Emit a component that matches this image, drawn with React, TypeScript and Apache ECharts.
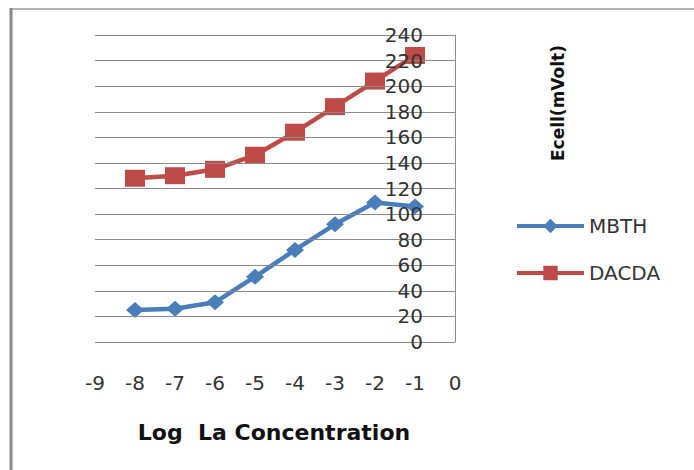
import React, { useEffect, useRef } from "react";
import * as echarts from "echarts";

const xValues = [-8, -7, -6, -5, -4, -3, -2, -1];
const mbthValues = [25, 26, 31, 51, 72, 92, 109, 106];
const dacdaValues = [128, 130, 135, 146, 164, 184, 204, 224];
const seriesNames = ["MBTH", "DACDA"];
const xAxisTitle = "Log  La Concentration";
const yAxisTitle = "Ecell(mVolt)";

export default function App() {
  const ref = useRef<HTMLDivElement>(null);
  useEffect(() => {
    if (!ref.current) return;
    const chart = echarts.init(ref.current, undefined, { renderer: "svg" });
    const font = "DejaVu Sans, Verdana, sans-serif";
    chart.setOption({
      animation: false,
      backgroundColor: "#ffffff",
      grid: { left: 95, right: 239, top: 35, bottom: 128, containLabel: false },
      xAxis: {
        type: "value",
        min: -9,
        max: 0,
        interval: 1,
        axisLine: { show: false },
        axisTick: { show: false },
        splitLine: { show: false },
        axisLabel: { margin: 31, fontSize: 20, color: "#333", fontFamily: font },
      },
      yAxis: {
        type: "value",
        position: "right",
        min: 0,
        max: 240,
        interval: 20,
        z: 5,
        axisLine: { show: true, lineStyle: { color: "#8c8c8c", width: 1 } },
        axisTick: { show: false },
        splitLine: { show: true, lineStyle: { color: "#8c8c8c", width: 1 } },
        axisLabel: {
          inside: true,
          margin: 32,
          fontSize: 20,
          color: "#333",
          fontFamily: font,
        },
      },
      legend: {
        orient: "vertical",
        left: 510,
        top: 211,
        itemWidth: 67,
        itemHeight: 18,
        itemGap: 27,
        data: seriesNames,
        lineStyle: { width: 4 },
        textStyle: { fontSize: 20, color: "#333", fontFamily: font },
      },
      series: [
        {
          name: seriesNames[0],
          type: "line",
          data: xValues.map((x, i) => [x, mbthValues[i]]),
          symbol: "diamond",
          symbolSize: [18, 16],
          lineStyle: { color: "#4a7ebb", width: 4.5 },
          itemStyle: { color: "#4a7ebb" },
        },
        {
          name: seriesNames[1],
          type: "line",
          data: xValues.map((x, i) => [x, dacdaValues[i]]),
          symbol: "rect",
          symbolSize: [20, 17],
          lineStyle: { color: "#be4b48", width: 4.5 },
          itemStyle: { color: "#be4b48" },
        },
      ],
      graphic: [
        {
          type: "line",
          shape: { x1: 10, y1: 9, x2: 694, y2: 9 },
          style: { stroke: "#9a9a9a", lineWidth: 1.5 },
        },
        {
          type: "line",
          shape: { x1: 11, y1: 8, x2: 11, y2: 470 },
          style: { stroke: "#8a8a8a", lineWidth: 3 },
        },
        {
          type: "text",
          x: 274,
          y: 432,
          style: {
            text: xAxisTitle,
            font: `bold 22px ${font}`,
            fill: "#111",
            textAlign: "center",
            textVerticalAlign: "middle",
          },
        },
        {
          type: "text",
          x: 558,
          y: 103,
          rotation: Math.PI / 2,
          style: {
            text: yAxisTitle,
            font: `bold 17px ${font}`,
            fill: "#111",
            textAlign: "center",
            textVerticalAlign: "middle",
          },
        },
      ],
    });
    return () => chart.dispose();
  }, []);
  return (
    <div
      ref={ref}
      style={{ position: "fixed", left: 0, top: 0, width: 694, height: 470 }}
    />
  );
}
